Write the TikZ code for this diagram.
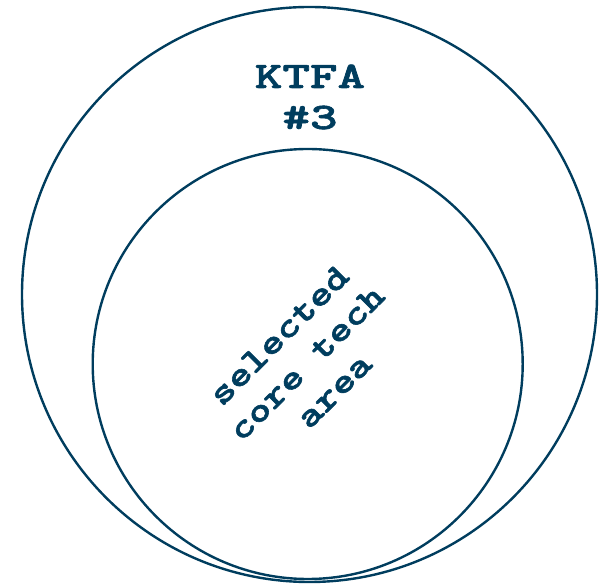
\documentclass[tikz,border=0pt]{standalone}
\usepackage{fontspec}
\newfontfamily\courb{lmmonolt10-bold.otf}[FakeBold=1.5]
\definecolor{navy}{RGB}{0,61,94}
\newcommand{\wide}[2]{\scalebox{#1}[1]{#2}}
\begin{document}
\begin{tikzpicture}[x=1pt,y=1pt,
  ring/.style={draw=navy,line width=2.4pt},
  title/.style={text=navy,font=\courb\fontsize{37.5}{43}\selectfont,anchor=base,inner sep=0pt},
  inlabel/.style={text=navy,font=\courb\fontsize{35}{39}\selectfont,align=center,rotate=45,inner sep=0pt}]
\useasboundingbox (0,0) rectangle (604,583);
\node[ring,circle,minimum size=575pt,inner sep=0pt] (outer) at (309.5,288.5) {};
\node[ring,circle,minimum size=430pt,inner sep=0pt] (inner) at (307.7,219) {};
\node[title] (t1) at (310,495) {\wide{1.4}{KTFA}};
\node[title] (t2) at (310,454) {\wide{1.4}{\#3}};
\node[inlabel] (lab) at (306.5,220) {\wide{1.24}{selected}\\\wide{1.24}{core tech}\\\wide{1.24}{area}};
\end{tikzpicture}
\end{document}
